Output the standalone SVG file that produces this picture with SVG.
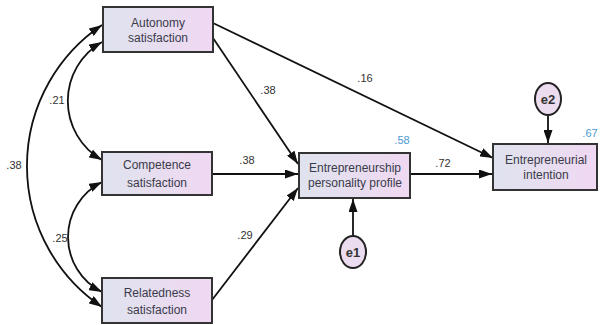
<svg xmlns="http://www.w3.org/2000/svg" width="600" height="325" viewBox="0 0 600 325">
<style>
.box{fill:url(#g);stroke:#333;stroke-width:2}
.err{fill:#ecdcf0;stroke:#222;stroke-width:2}
.t{font-family:"Liberation Sans",Arial,sans-serif;font-size:12px;fill:#3a3a4a;text-anchor:middle}
.n{font-family:"Liberation Sans",Arial,sans-serif;font-size:11px;fill:#333;text-anchor:middle}
.b{fill:#4a9ad6}
.e{font-family:"Liberation Sans",Arial,sans-serif;font-size:13px;font-weight:bold;fill:#333;text-anchor:middle}
.c{fill:none;stroke:#111;stroke-width:1.8}
</style>
<defs>
<linearGradient id="g" x1="0" y1="0" x2="1" y2="0">
<stop offset="0" stop-color="#dfe3ee"/>
<stop offset="1" stop-color="#f0d8f2"/>
</linearGradient>
<marker id="a" viewBox="0 0 13 9" refX="13" refY="4.5" markerWidth="13" markerHeight="9" markerUnits="userSpaceOnUse" orient="auto-start-reverse">
<path d="M0,0 L13,4.5 L0,9 Z" fill="#111"/>
</marker>
</defs>
<g id="connectors">
<path class="c" d="M213,23 L493,158" marker-end="url(#a)"/>
<path class="c" d="M213,38 L298,164" marker-end="url(#a)"/>
<path class="c" d="M212,174 L298,174" marker-end="url(#a)"/>
<path class="c" d="M212,300 L298,188" marker-end="url(#a)"/>
<path class="c" d="M410,174 L492,174" marker-end="url(#a)"/>
<path class="c" d="M353,236 L353,199" marker-end="url(#a)"/>
<path class="c" d="M548,115 L548,143" marker-end="url(#a)"/>
<path class="c" d="M102,25 A170,170 0 0 0 102,307" marker-start="url(#a)" marker-end="url(#a)"/>
<path class="c" d="M102,42 A68,68 0 0 0 102,160" marker-start="url(#a)" marker-end="url(#a)"/>
<path class="c" d="M102,182 A61.5,61.5 0 0 0 102,292" marker-start="url(#a)" marker-end="url(#a)"/>
</g>
<g id="labels">
<text class="n" x="365" y="82">.16</text>
<text class="n" x="268" y="94">.38</text>
<text class="n" x="247" y="164">.38</text>
<text class="n" x="245" y="239">.29</text>
<text class="n" x="443" y="167">.72</text>
<text class="n" x="57" y="104">.21</text>
<text class="n" x="60" y="242">.25</text>
<text class="n" x="14" y="169">.38</text>
<text class="n b" x="402" y="144">.58</text>
<text class="n b" x="590" y="137">.67</text>
</g>
<g id="autonomy">
<rect class="box" x="103" y="7" width="110" height="45"/>
<text class="t" x="158" y="27">Autonomy</text>
<text class="t" x="158" y="42">satisfaction</text>
</g>
<g id="competence">
<rect class="box" x="102" y="152" width="110" height="43"/>
<text class="t" x="157" y="169">Competence</text>
<text class="t" x="157" y="187">satisfaction</text>
</g>
<g id="relatedness">
<rect class="box" x="102" y="278" width="110" height="45"/>
<text class="t" x="157" y="297">Relatedness</text>
<text class="t" x="157" y="314">satisfaction</text>
</g>
<g id="epp">
<rect class="box" x="299" y="153" width="111" height="45"/>
<text class="t" x="355" y="172">Entrepreneurship</text>
<text class="t" x="355" y="187">personality profile</text>
</g>
<g id="ei">
<rect class="box" x="493" y="144" width="104" height="46"/>
<text class="t" x="546" y="164">Entrepreneurial</text>
<text class="t" x="546" y="179">intention</text>
</g>
<g id="e1">
<ellipse class="err" cx="353" cy="252" rx="13" ry="16"/>
<text class="e" x="353" y="257">e1</text>
</g>
<g id="e2">
<ellipse class="err" cx="548" cy="99" rx="13" ry="16"/>
<text class="e" x="548" y="104">e2</text>
</g>
</svg>
